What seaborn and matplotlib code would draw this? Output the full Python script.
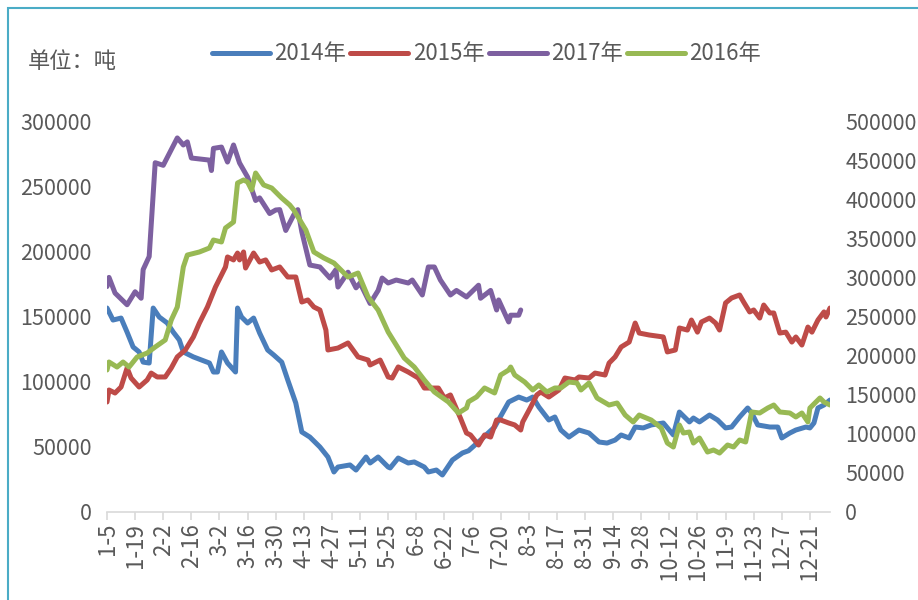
import pandas as pd
import matplotlib.pyplot as plt
import matplotlib.patches as mpatches
import seaborn as sns

# days counted from 1-5, values in tonnes
days_2014 = [0, 3, 7, 10, 13, 16, 18, 21, 23, 26, 30, 33, 36, 38, 43, 51, 53, 55, 57, 60,
             64, 65, 67, 70, 73, 76, 80, 83, 87, 90, 94, 97, 101, 106, 110, 113, 115, 121,
             124, 129, 131, 135, 140, 141, 145, 150, 153, 158, 160, 164, 167, 172, 177, 180,
             186, 193, 200, 205, 209, 212, 215, 220, 223, 226, 230, 235, 240, 245, 249, 253,
             256, 260, 263, 267, 271, 277, 282, 285, 290, 292, 295, 300, 304, 308, 311, 315,
             319, 321, 324, 330, 334, 336, 340, 343, 348, 350, 352, 354, 357, 360]
vals_2014 = [156500, 147300, 148800, 138000, 126600, 122800, 115000, 114300, 156500, 149600,
             145000, 138000, 132000, 122800, 119000, 114300, 107400, 107400, 122800, 114300,
             107400, 156500, 149600, 145000, 148800, 137300, 124300, 120500, 115000, 101300,
             83600, 61400, 57500, 49900, 42200, 30700, 34500, 36100, 32200, 42200, 37600,
             42200, 34500, 33800, 41400, 37600, 38400, 34500, 30700, 32200, 28400, 39900,
             45300, 47000, 55200, 65200, 84400, 88200, 85900, 88200, 80600, 70600, 72900,
             62900, 57500, 62900, 60600, 53700, 52900, 55200, 59100, 56800, 65200, 64500,
             66800, 68300, 59100, 76700, 69100, 72100, 69100, 74400, 70600, 64500, 65200,
             72900, 79800, 76000, 66800, 65200, 65200, 56800, 60600, 62900, 65200, 64500,
             68300, 79800, 82100, 85900]

days_2015 = [0, 1, 4, 7, 10, 12, 16, 20, 22, 25, 29, 32, 35, 39, 43, 46, 50, 54, 59, 60, 63,
             65, 66, 68, 69, 73, 76, 79, 82, 86, 90, 94, 97, 100, 103, 106, 109, 110, 115,
             120, 125, 130, 131, 136, 140, 142, 145, 150, 155, 158, 165, 168, 171, 176, 179,
             181, 185, 188, 191, 194, 196, 200, 203, 206, 207, 211, 214, 216, 220, 225, 228,
             233, 235, 240, 243, 248, 250, 253, 256, 260, 263, 265, 270, 277, 279, 283, 285,
             289, 291, 294, 296, 300, 303, 305, 308, 311, 315, 317, 320, 322, 325, 327, 330,
             332, 335, 338, 341, 343, 346, 349, 351, 354, 357, 358, 360]
vals_2015 = [84400, 93600, 91300, 95900, 110500, 102800, 95900, 101300, 106600, 103600,
             103600, 110500, 119000, 124300, 134300, 145000, 157300, 172600, 188000, 195700,
             193400, 198700, 193400, 199500, 187200, 198700, 191800, 193400, 185700, 188000,
             180300, 180300, 161100, 162700, 157300, 155000, 139600, 124300, 125800, 129700,
             119000, 116600, 112800, 116600, 103600, 102800, 111300, 107400, 102800, 95100,
             95100, 87500, 89800, 72000, 60600, 59100, 51400, 59100, 57500, 70600, 70600,
             68300, 66800, 62900, 69100, 80600, 89800, 92100, 88200, 93600, 102800, 101300,
             103600, 102800, 106600, 105100, 114300, 119000, 126600, 130400, 145000, 137300,
             135800, 134300, 122800, 124300, 141200, 139600, 147300, 138000, 145800, 148800,
             145000, 139600, 160400, 164200, 166500, 161100, 153500, 155000, 148800, 158800,
             152700, 152700, 137300, 138000, 130400, 134300, 128100, 141900, 138000, 147300,
             153500, 149600, 156500]

days_2017 = [0, 1, 4, 10, 14, 17, 18, 21, 24, 28, 31, 35, 38, 40, 42, 51, 52, 53, 57, 60,
             63, 66, 70, 74, 76, 81, 84, 86, 89, 93, 95, 97, 101, 106, 111, 114, 115, 120,
             124, 126, 131, 135, 137, 140, 144, 150, 152, 157, 160, 163, 166, 171, 174, 179,
             185, 186, 191, 194, 195, 200, 201, 205, 206]
vals_2017 = [173000, 180000, 168000, 159000, 169000, 164000, 186000, 196000, 268000, 266000,
             275000, 287000, 281600, 284000, 271600, 270000, 262000, 279000, 280000, 268500,
             281600, 267800, 257000, 239000, 241000, 229000, 231700, 232000, 216000, 228000,
             232000, 215000, 189500, 188000, 179500, 186000, 172600, 184000, 172000, 175700,
             160000, 170000, 179500, 175700, 178000, 175700, 178000, 166500, 188000, 188000,
             178000, 166500, 170000, 165000, 174000, 164000, 170000, 155000, 162700, 145800,
             151000, 151000, 155000]

# 2016 is read on the right axis
days_2016 = [0, 1, 5, 8, 11, 15, 20, 24, 29, 32, 35, 38, 40, 46, 51, 53, 57, 59, 63, 65, 68,
             70, 72, 74, 78, 82, 87, 91, 93, 99, 103, 108, 113, 120, 125, 130, 135, 140, 144,
             148, 153, 158, 163, 170, 175, 179, 180, 184, 188, 193, 196, 200, 201, 203, 208,
             212, 215, 219, 223, 226, 230, 234, 236, 240, 244, 250, 254, 258, 262, 265, 271,
             276, 279, 282, 285, 287, 290, 292, 295, 299, 302, 305, 309, 312, 315, 318, 321,
             325, 329, 332, 335, 340, 343, 346, 349, 350, 355, 357, 360]
vals_2016 = [181600, 191800, 185400, 191800, 185400, 198200, 203300, 211000, 220000, 245500,
             262100, 313300, 328600, 332500, 337600, 347800, 345300, 363200, 370800, 420700,
             424600, 422000, 411800, 433500, 418200, 414300, 401500, 392600, 386200, 360600,
             332500, 324800, 318400, 300500, 305600, 274900, 258300, 230200, 213600, 196900,
             185400, 168800, 153500, 140700, 126600, 133000, 141000, 147100, 158600, 152200,
             175200, 181600, 185400, 175200, 166200, 156000, 162400, 153500, 158600, 158600,
             166200, 165000, 156000, 165000, 145800, 136800, 139400, 124000, 115100, 124000,
             117600, 107400, 88200, 83100, 111300, 101000, 102300, 88200, 94600, 76700, 79300,
             75400, 85700, 83100, 92100, 89500, 127900, 126600, 133000, 136800, 127900,
             126600, 121500, 126600, 115100, 133000, 145800, 140700, 136800]

start = pd.Timestamp("2001-01-05")


def make_frame(days, vals):
    return pd.DataFrame({"date": start + pd.to_timedelta(days, unit="D"), "value": vals})


sns.set_theme(style="white")
plt.rcParams["font.family"] = ["Noto Sans CJK SC", "DejaVu Sans"]
grey = "#595959"
fs = 16

fig = plt.figure(figsize=(9.18, 6), dpi=100)
ax = fig.add_axes([107 / 918, 1 - 512 / 600, (830 - 107) / 918, (512 - 121) / 600])
ax2 = ax.twinx()

lw = 3.6
sns.lineplot(data=make_frame(days_2014, vals_2014), x="date", y="value", ax=ax,
             color="#4A7EBB", linewidth=lw, label="2014年", legend=False)
sns.lineplot(data=make_frame(days_2015, vals_2015), x="date", y="value", ax=ax,
             color="#BE4B48", linewidth=lw, label="2015年", legend=False)
sns.lineplot(data=make_frame(days_2017, vals_2017), x="date", y="value", ax=ax,
             color="#7D60A0", linewidth=lw, label="2017年", legend=False)
sns.lineplot(data=make_frame(days_2016, vals_2016), x="date", y="value", ax=ax2,
             color="#98B954", linewidth=lw, label="2016年", legend=False)

ax.set_ylim(0, 300000)
ax2.set_ylim(0, 500000)
ax.set_xlim(start, pd.Timestamp("2001-12-31"))
ax.set_yticks(range(0, 300001, 50000))
ax2.set_yticks(range(0, 500001, 50000))
ax.set_xlabel("")
ax.set_ylabel("")
ax2.set_ylabel("")

ticks = pd.date_range("2001-01-05", "2001-12-21", freq="14D")
ax.set_xticks(ticks)
ax.set_xticklabels([f"{d.month}-{d.day}" for d in ticks], rotation=90)

for a in (ax, ax2):
    for s in a.spines.values():
        s.set_visible(False)
ax.spines["bottom"].set_visible(True)
ax.spines["bottom"].set_color("#D9D9D9")
ax.spines["bottom"].set_linewidth(1.2)
ax.tick_params(axis="x", bottom=True, length=6, width=1.2, color="#D9D9D9",
               labelsize=fs, labelcolor=grey, pad=2)
ax.tick_params(axis="y", left=False, length=0, labelsize=15.5, labelcolor=grey, pad=11)
ax2.tick_params(axis="y", right=False, length=0, labelsize=15.5, labelcolor=grey, pad=11)
ax.grid(False)
ax2.grid(False)

h1, l1 = ax.get_legend_handles_labels()
h2, l2 = ax2.get_legend_handles_labels()
fig.legend(h1 + h2, l1 + l2, loc="center", bbox_to_anchor=(0.53, 1 - 54 / 600), ncol=4,
           frameon=False, fontsize=fs, labelcolor=grey, handlelength=2.6,
           handletextpad=0.2, columnspacing=0.2)

fig.text(28 / 918, 1 - 62 / 600, "单位：吨", fontsize=fs, color=grey, va="center", ha="left")

fig.patches.append(mpatches.Rectangle((8 / 918, -0.05), 1.2, 1 - 8 / 600 + 0.05,
                                      transform=fig.transFigure, fill=False,
                                      edgecolor="#4BACC6", linewidth=1.5))

fig.savefig("out.png", dpi=100)
